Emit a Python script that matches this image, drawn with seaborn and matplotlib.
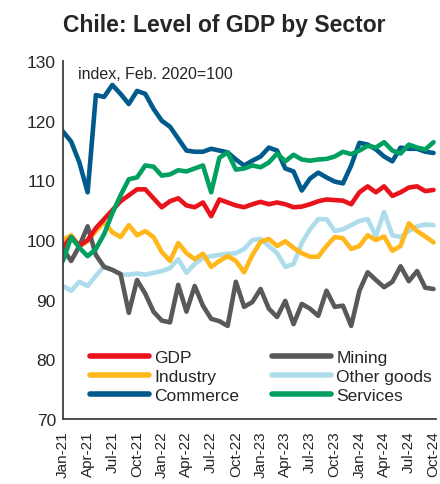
import matplotlib
matplotlib.use("Agg")
import matplotlib.pyplot as plt
import seaborn as sns
import pandas as pd
import numpy as np

# Monthly observations, Jan-21 .. Oct-24 (index, Feb. 2020 = 100)
months = pd.date_range("2021-01-01", "2024-10-01", freq="MS")

gdp = [98.8, 100.5, 99.0, 100.0, 102.0, 103.5, 105.0, 106.5, 107.5, 108.5,
       108.5, 107.0, 105.5, 106.5, 107.0, 105.8, 105.5, 106.3, 104.0, 106.8,
       106.3, 105.8, 105.5, 106.0, 106.4, 106.0, 106.3, 106.0, 105.5, 105.6,
       106.0, 106.5, 106.8, 106.7, 106.6, 106.0, 108.0, 109.0, 108.0, 109.0,
       107.4, 108.0, 108.8, 109.0, 108.2, 108.4]

mining = [98.5, 96.5, 99.0, 102.3, 97.5, 95.5, 95.0, 94.3, 87.8, 93.3,
          91.0, 88.0, 86.5, 86.2, 92.5, 88.0, 92.3, 89.0, 86.8, 86.4,
          85.6, 93.0, 88.8, 89.6, 91.8, 88.5, 87.1, 89.8, 85.9, 89.3,
          88.5, 87.3, 91.5, 88.8, 89.0, 85.6, 91.5, 94.6, 93.3, 92.1,
          93.0, 95.6, 93.1, 94.8, 92.0, 91.8]

industry = [100.0, 100.8, 99.0, 99.8, 101.5, 103.0, 101.3, 100.5, 102.5, 100.8,
            101.5, 100.5, 98.0, 96.5, 99.5, 97.8, 96.8, 97.7, 95.5, 96.5,
            97.3, 96.5, 94.6, 97.5, 99.7, 100.2, 99.0, 99.8, 98.7, 97.8,
            97.2, 97.2, 99.0, 100.5, 100.3, 98.5, 99.0, 100.8, 100.0, 100.6,
            98.2, 99.0, 102.8, 101.5, 100.6, 99.6]

other_goods = [92.3, 91.5, 93.0, 92.3, 94.0, 95.6, 95.0, 94.2, 94.2, 94.4,
               94.2, 94.5, 94.8, 95.3, 96.8, 94.5, 96.0, 97.0, 97.3, 97.5,
               97.7, 97.8, 98.5, 100.0, 100.2, 99.0, 97.8, 95.5, 96.0, 99.5,
               101.8, 103.5, 103.5, 101.5, 101.8, 102.5, 103.2, 103.5, 100.7, 104.7,
               100.8, 100.5, 101.5, 102.3, 102.6, 102.5]

commerce = [118.2, 116.5, 113.0, 108.0, 124.3, 124.0, 126.0, 124.5, 122.8, 125.0,
            124.5, 122.0, 120.0, 119.0, 117.0, 115.0, 114.8, 114.8, 115.3, 115.0,
            114.7, 113.5, 112.5, 113.3, 114.0, 115.5, 115.0, 112.0, 111.5, 108.3,
            110.3, 111.3, 110.5, 109.8, 109.5, 112.5, 116.3, 116.0, 115.2, 114.0,
            113.2, 115.5, 115.3, 115.3, 114.8, 114.6]

services = [96.5, 100.5, 98.7, 97.3, 98.5, 101.0, 104.5, 107.5, 110.2, 110.5,
            112.5, 112.3, 110.8, 111.0, 111.7, 111.5, 112.0, 112.5, 108.0, 113.8,
            114.7, 111.8, 112.0, 112.5, 112.2, 113.0, 114.5, 113.2, 114.3, 113.5,
            113.3, 113.5, 113.6, 114.0, 114.8, 114.4, 115.0, 115.8, 115.5, 116.4,
            115.0, 114.5, 116.0, 115.5, 115.2, 116.4]

series_names = ["GDP", "Mining", "Industry", "Other goods", "Commerce", "Services"]
series_values = [gdp, mining, industry, other_goods, commerce, services]
colors = ["#E8131B", "#595959", "#FFB71B", "#ADDDEA", "#005A8C", "#00A060"]

y_ticks = [70, 80, 90, 100, 110, 120, 130]

frames = []
for name, vals in zip(series_names, series_values):
    frames.append(pd.DataFrame({"month": np.arange(len(months)), "value": vals, "sector": name}))
df = pd.concat(frames, ignore_index=True)

sns.set_theme(style="white")
plt.rcParams["font.family"] = ["Liberation Sans", "DejaVu Sans"]

fig = plt.figure(figsize=(4.4, 4.85), dpi=100)
ax = fig.add_axes([0.143, 0.134, 0.847, 0.738])

palette = dict(zip(series_names, colors))
draw_order = ["Other goods", "Industry", "Mining", "GDP", "Commerce", "Services"]
for name in draw_order:
    sub = df[df["sector"] == name]
    sns.lineplot(data=sub, x="month", y="value", color=palette[name], lw=3.3,
                 ax=ax, label=name, solid_joinstyle="round", solid_capstyle="round")

ax.set_xlim(0, 45.25)
ax.set_ylim(70, 130)
ax.set_yticks(y_ticks)
ax.set_yticklabels([str(t) for t in y_ticks], fontsize=12.5)
tick_pos = np.arange(0, len(months), 3)
ax.set_xticks(tick_pos)
ax.set_xticklabels([months[i].strftime("%b-%y") for i in tick_pos], rotation=90, fontsize=11)
ax.set_xlabel("")
ax.set_ylabel("")

for side in ["top", "right"]:
    ax.spines[side].set_visible(False)
for side in ["left", "bottom"]:
    ax.spines[side].set_color("#404040")
    ax.spines[side].set_linewidth(1.3)
ax.tick_params(axis="y", direction="in", length=5, width=1.2, color="#404040", pad=5)
ax.tick_params(axis="x", direction="out", length=5, width=1.2, color="#404040", pad=3)

ax.text(0.04, 0.985, "index, Feb. 2020=100", transform=ax.transAxes,
        fontsize=11.5, va="top", ha="left")

handles, labels = ax.get_legend_handles_labels()
lookup = dict(zip(labels, handles))
legend_order = ["GDP", "Industry", "Commerce", "Mining", "Other goods", "Services"]
leg = ax.legend([lookup[n] for n in legend_order], legend_order, ncol=2,
                loc="lower left", bbox_to_anchor=(0.03, 0.0), frameon=False,
                fontsize=12.5, handlelength=3.4, handletextpad=0.3,
                columnspacing=1.9, labelspacing=0.22)
for line in leg.get_lines():
    line.set_linewidth(4)

fig.suptitle("Chile: Level of GDP by Sector", fontsize=16.5, fontweight="bold",
             x=0.51, y=0.972)

fig.savefig("out.png", dpi=100)
